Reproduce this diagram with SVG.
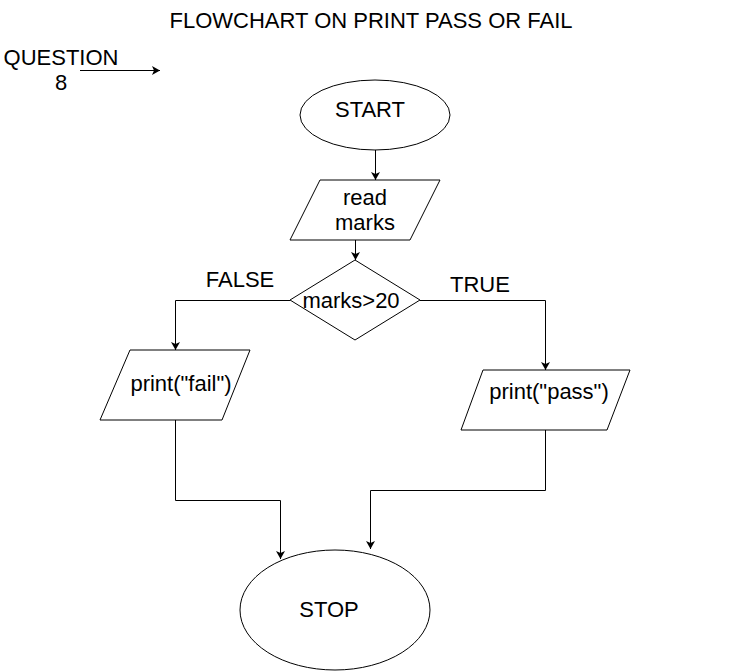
<svg xmlns="http://www.w3.org/2000/svg" width="741" height="671" viewBox="0 0 741 671">
<style>
text{font-family:"Liberation Sans",Arial,sans-serif;font-size:22px;fill:#000;text-anchor:middle}
.shape{fill:#fff;stroke:#000;stroke-width:1}
.edge{fill:none;stroke:#000;stroke-width:1}
</style>
<defs>
<marker id="arr" markerWidth="10" markerHeight="10" refX="8" refY="4.5" orient="auto" markerUnits="userSpaceOnUse">
<path d="M0,0 L8,4.5 L0,9 L2,4.5 Z" fill="#000"/>
</marker>
</defs>
<rect width="741" height="671" fill="#fff"/>
<g id="title"><text x="371" y="28">FLOWCHART ON PRINT PASS OR FAIL</text></g>
<g id="question"><text x="61" y="65">QUESTION</text><text x="61" y="90">8</text></g>
<g id="connectors">
<line class="edge" x1="80" y1="70.5" x2="160" y2="70.5" marker-end="url(#arr)"/>
<line class="edge" x1="375.5" y1="150" x2="375.5" y2="180" marker-end="url(#arr)"/>
<line class="edge" x1="355.5" y1="240" x2="355.5" y2="260" marker-end="url(#arr)"/>
<polyline class="edge" points="290,300.5 175.5,300.5 175.5,350" marker-end="url(#arr)"/>
<polyline class="edge" points="420,300.5 545.5,300.5 545.5,370" marker-end="url(#arr)"/>
<polyline class="edge" points="175.5,420 175.5,500.5 280.5,500.5 280.5,559" marker-end="url(#arr)"/>
<polyline class="edge" points="545.5,430 545.5,490.5 370.5,490.5 370.5,549" marker-end="url(#arr)"/>
</g>
<g id="start"><ellipse class="shape" cx="375" cy="115" rx="75" ry="35"/><text x="370" y="117">START</text></g>
<g id="read"><polygon class="shape" points="320,180 440,180 410,240 290,240"/><text x="365" y="205">read</text><text x="365" y="230">marks</text></g>
<g id="decision"><polygon class="shape" points="355,260 420,300 355,340 290,300"/><text x="351" y="308">marks&gt;20</text></g>
<g id="false-label"><text x="240" y="287">FALSE</text></g>
<g id="true-label"><text x="480" y="292">TRUE</text></g>
<g id="fail"><polygon class="shape" points="130,350 250,350 222,420 100,420"/><text x="181" y="391">print("fail")</text></g>
<g id="pass"><polygon class="shape" points="483,370 630,370 607,430 461,430"/><text x="549" y="399">print("pass")</text></g>
<g id="stop"><ellipse class="shape" cx="335" cy="610" rx="95" ry="60"/><text x="329" y="617">STOP</text></g>
</svg>
